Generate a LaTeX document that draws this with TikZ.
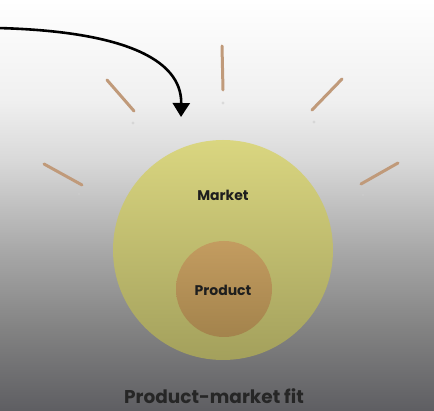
\documentclass[tikz,border=0pt]{standalone}
\usepackage{fontspec}
\setsansfont{Poppins}
\usepackage{tikz}
\usetikzlibrary{
  arrows.meta,
  positioning,
  backgrounds
}

\definecolor{marketfill}{HTML}{DAD680}
\definecolor{marketlow}{HTML}{A3A05C}
\definecolor{productfill}{HTML}{C39C60}
\definecolor{productlow}{HTML}{A3834C}
\definecolor{raycolor}{HTML}{C09A7A}
\definecolor{inkcolor}{HTML}{1E1E1E}
\definecolor{stagelow}{HTML}{5E5E62}

% path box sits between 25bp and 75bp of the shading
\pgfdeclareverticalshading{stage}{100bp}{
  color(0bp)=(stagelow);
  color(25bp)=(stagelow);
  color(34.9bp)=(black!49);
  color(44.6bp)=(black!34);
  color(55.5bp)=(black!15);
  color(62.8bp)=(black!6);
  color(75bp)=(white);
  color(100bp)=(white)}

\begin{document}
\begin{tikzpicture}[
  x=1pt, y=-1pt,
  % Node styles
  market/.style={
    circle,
    minimum size=220pt,
    inner sep=0pt,
    top color=marketfill,
    bottom color=marketlow,
  },
  product/.style={
    circle,
    minimum size=96pt,
    inner sep=0pt,
    top color=productfill,
    bottom color=productlow,
  },
  circlelabel/.style={
    font=\sffamily\bfseries\fontsize{14}{16}\selectfont,
    text=inkcolor,
  },
  caption/.style={
    font=\sffamily\bfseries\fontsize{18.5}{21}\selectfont,
    text=black!85,
  },
  pointer/.style={
    -{Triangle[length=14pt,width=17pt]},
    line width=2.6pt,
    black,
  },
  ray/.style={
    line width=3pt,
    line cap=round,
    raycolor,
  },
  spark/.style={
    fill=black!20,
    opacity=0.6,
  },
]

% ── Background ──
\shade[shading=stage] (0,0) rectangle (434,411);
\useasboundingbox (0,0) rectangle (434,411);

% ── Circles ──
\node[market] (market) at (223,250) {};
\node[product] (product) at (224,289) {};

% ── Labels ──
\node[circlelabel] (marketlabel) at (223,195) {Market};
\node[circlelabel] (productlabel) at (223,290) {Product};
\node[caption] (fit) at (214,396) {Product-market fit};

% ── Rays round the market ──
\foreach \ax/\ay/\bx/\by/\dx/\dy in {
    44/164/82/185/79/194,
    107/80/134/111/133/123,
    222/46/223/90/223/103,
    342/79/312/110/314/122,
    398/163/361/184/363/195}{
  \draw[ray] (\ax,\ay) -- (\bx,\by);
  \fill[spark] (\dx,\dy) circle (1.6pt);
}

% ── Arrow ──
\coordinate (tail) at (-3,28);
\coordinate (tip) at (181,117);
\draw[pointer] (tail) .. controls (120,31) and (182,58) .. (tip);

\end{tikzpicture}
\end{document}
